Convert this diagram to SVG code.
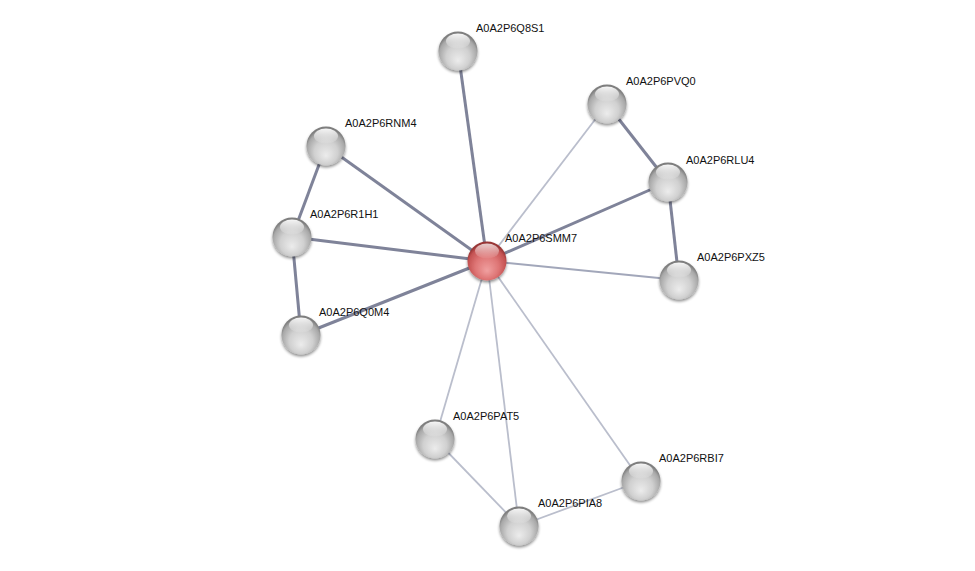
<svg xmlns="http://www.w3.org/2000/svg" width="975" height="571" viewBox="0 0 975 571">
<defs>
<radialGradient id="gW" cx="50%" cy="60%" r="55%" fx="50%" fy="75%">
<stop offset="0" stop-color="#ececec"/>
<stop offset="0.55" stop-color="#d0d0d0"/>
<stop offset="0.88" stop-color="#a8a8a8"/>
<stop offset="1" stop-color="#7e7e7e"/>
</radialGradient>
<radialGradient id="gR" cx="50%" cy="60%" r="55%" fx="50%" fy="75%">
<stop offset="0" stop-color="#f0a0a0"/>
<stop offset="0.55" stop-color="#de7575"/>
<stop offset="0.88" stop-color="#c45252"/>
<stop offset="1" stop-color="#983535"/>
</radialGradient>
<linearGradient id="hl" x1="0" y1="0" x2="0" y2="1">
<stop offset="0" stop-color="#ffffff" stop-opacity="0.95"/>
<stop offset="1" stop-color="#ffffff" stop-opacity="0.05"/>
</linearGradient>
<filter id="sh" x="-30%" y="-30%" width="160%" height="170%">
<feGaussianBlur in="SourceAlpha" stdDeviation="1.5"/>
<feOffset dy="2" result="b"/>
<feComponentTransfer><feFuncA type="linear" slope="0.45"/></feComponentTransfer>
<feMerge><feMergeNode/><feMergeNode in="SourceGraphic"/></feMerge>
</filter>
<g id="ballW"><circle r="19.5" fill="url(#gW)" filter="url(#sh)"/><ellipse cx="0" cy="-10" rx="12" ry="7.5" fill="url(#hl)"/></g>
<g id="ballR"><circle r="19.5" fill="url(#gR)" filter="url(#sh)"/><ellipse cx="0" cy="-10" rx="12" ry="7.5" fill="url(#hl)" opacity="0.8"/></g>
</defs>
<style>
.e1{stroke:#7f8399;stroke-width:3;fill:none}
.e2{stroke:#a2a7ba;stroke-width:2;fill:none}
.e3{stroke:#babecc;stroke-width:1.8;fill:none}
text{font-family:"Liberation Sans",Arial,sans-serif;font-size:11px;fill:#111}
</style>
<rect width="975" height="571" fill="#ffffff"/>
<g id="connectors">
<line class="e1" x1="458" y1="51" x2="487" y2="261"/>
<line class="e1" x1="326" y1="146" x2="487" y2="261"/>
<line class="e1" x1="292" y1="237" x2="487" y2="261"/>
<line class="e1" x1="301" y1="335" x2="487" y2="261"/>
<line class="e1" x1="668" y1="182" x2="487" y2="261"/>
<line class="e1" x1="326" y1="146" x2="292" y2="237"/>
<line class="e1" x1="292" y1="237" x2="301" y2="335"/>
<line class="e1" x1="607" y1="104" x2="668" y2="182"/>
<line class="e1" x1="668" y1="182" x2="679" y2="280"/>
<line class="e2" x1="679" y1="280" x2="487" y2="261"/>
<line class="e3" x1="607" y1="104" x2="487" y2="261"/>
<line class="e3" x1="435" y1="439" x2="487" y2="261"/>
<line class="e3" x1="519" y1="526" x2="487" y2="261"/>
<line class="e3" x1="641" y1="481" x2="487" y2="261"/>
<line class="e3" x1="435" y1="439" x2="519" y2="526"/>
<line class="e3" x1="519" y1="526" x2="641" y2="481"/>
</g>
<g id="n-Q8S1"><use href="#ballW" x="458" y="51"/><text x="476" y="32">A0A2P6Q8S1</text></g>
<g id="n-PVQ0"><use href="#ballW" x="607" y="104"/><text x="626" y="85">A0A2P6PVQ0</text></g>
<g id="n-RNM4"><use href="#ballW" x="326" y="146"/><text x="345" y="127">A0A2P6RNM4</text></g>
<g id="n-RLU4"><use href="#ballW" x="668" y="182"/><text x="686" y="164">A0A2P6RLU4</text></g>
<g id="n-R1H1"><use href="#ballW" x="292" y="237"/><text x="310" y="218">A0A2P6R1H1</text></g>
<g id="n-PXZ5"><use href="#ballW" x="679" y="280"/><text x="697" y="261">A0A2P6PXZ5</text></g>
<g id="n-Q0M4"><use href="#ballW" x="301" y="335"/><text x="319" y="316">A0A2P6Q0M4</text></g>
<g id="n-PAT5"><use href="#ballW" x="435" y="439"/><text x="453" y="420">A0A2P6PAT5</text></g>
<g id="n-RBI7"><use href="#ballW" x="641" y="481"/><text x="659" y="462">A0A2P6RBI7</text></g>
<g id="n-PIA8"><use href="#ballW" x="519" y="526"/><text x="538" y="507">A0A2P6PIA8</text></g>
<g id="n-SMM7"><use href="#ballR" x="487" y="261"/><text x="505" y="242">A0A2P6SMM7</text></g>
</svg>
